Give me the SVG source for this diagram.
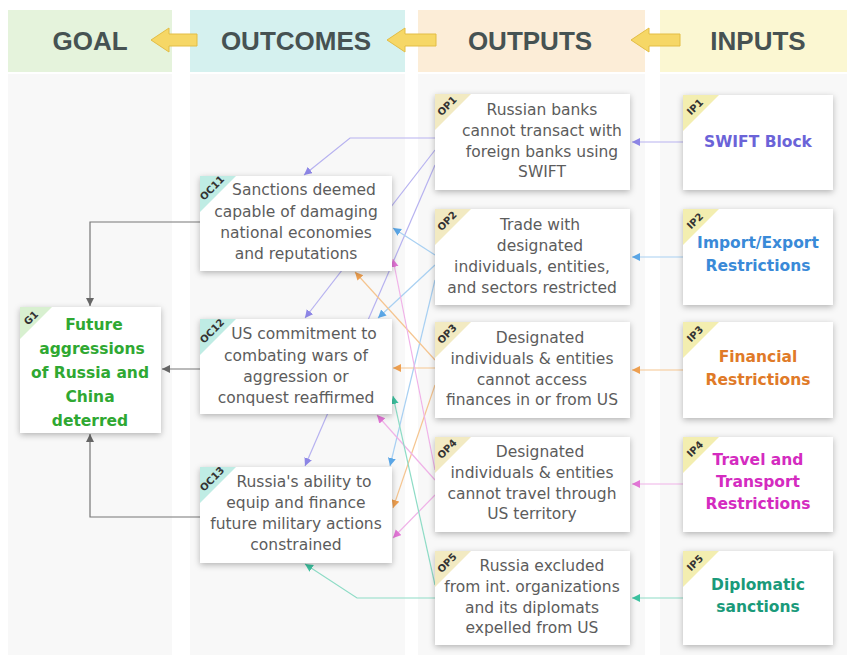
<svg xmlns="http://www.w3.org/2000/svg" width="847" height="655" viewBox="0 0 847 655">
<defs>
<filter id="sh" x="-10%" y="-10%" width="125%" height="130%">
<feDropShadow dx="0" dy="2" stdDeviation="3" flood-color="#000" flood-opacity="0.28"/>
</filter>
<marker id="mP" markerUnits="userSpaceOnUse" markerWidth="9" markerHeight="9" refX="8" refY="4" orient="auto"><path d="M0,0 L8,4 L0,8 z" fill="#8d86e6"/></marker>
<marker id="mB" markerUnits="userSpaceOnUse" markerWidth="9" markerHeight="9" refX="8" refY="4" orient="auto"><path d="M0,0 L8,4 L0,8 z" fill="#5aa6e6"/></marker>
<marker id="mO" markerUnits="userSpaceOnUse" markerWidth="9" markerHeight="9" refX="8" refY="4" orient="auto"><path d="M0,0 L8,4 L0,8 z" fill="#efa050"/></marker>
<marker id="mK" markerUnits="userSpaceOnUse" markerWidth="9" markerHeight="9" refX="8" refY="4" orient="auto"><path d="M0,0 L8,4 L0,8 z" fill="#e275d6"/></marker>
<marker id="mT" markerUnits="userSpaceOnUse" markerWidth="9" markerHeight="9" refX="8" refY="4" orient="auto"><path d="M0,0 L8,4 L0,8 z" fill="#3cc2a0"/></marker>
<marker id="mG" markerUnits="userSpaceOnUse" markerWidth="9" markerHeight="9" refX="8" refY="4" orient="auto"><path d="M0,0 L8,4 L0,8 z" fill="#666"/></marker>
</defs>
<style>
.hd{font-family:"Liberation Sans",Arial,sans-serif;font-weight:bold;font-size:26px;fill:#465252;text-anchor:middle}
.box{fill:#fff;filter:url(#sh)}
.t{font-family:"DejaVu Sans",sans-serif;font-size:15.5px;fill:#5c5c5c;text-anchor:middle}
.ti{font-family:"DejaVu Sans",sans-serif;font-weight:bold;font-size:15.5px;text-anchor:middle}
.tg{font-family:"DejaVu Sans",sans-serif;font-weight:bold;font-size:10px;fill:#333;text-anchor:middle}
.harr{fill:#f6d766;stroke:#e3bd45;stroke-width:1}
.c{fill:none;stroke-width:1.2}
.cP{stroke:#b7b2f0;marker-end:url(#mP)}
.cB{stroke:#a8d0f2;marker-end:url(#mB)}
.cO{stroke:#f5c590;marker-end:url(#mO)}
.cK{stroke:#f0b2e8;marker-end:url(#mK)}
.cT{stroke:#8edcc6;marker-end:url(#mT)}
.cG{stroke:#777;marker-end:url(#mG)}
</style>
<rect width="847" height="655" fill="#fff"/>
<rect x="8" y="74" width="164" height="581" fill="#f8f8f8"/>
<rect x="190" y="74" width="215" height="581" fill="#f8f8f8"/>
<rect x="418" y="74" width="227" height="581" fill="#f8f8f8"/>
<rect x="660" y="74" width="187" height="581" fill="#f8f8f8"/>
<g id="header">
<rect x="8" y="10" width="164" height="62" fill="#e5f3dc"/>
<rect x="190" y="10" width="215" height="62" fill="#d5f1ef"/>
<rect x="418" y="10" width="227" height="62" fill="#fcedd7"/>
<rect x="660" y="10" width="187" height="62" fill="#fbf7d2"/>
<text class="hd" x="90" y="50">GOAL</text>
<text class="hd" x="296" y="50">OUTCOMES</text>
<text class="hd" x="530" y="50">OUTPUTS</text>
<text class="hd" x="758" y="50">INPUTS</text>
<path class="harr" d="M151,40 L169,28 L169,34 L197,34 L197,46 L169,46 L169,52 z"/>
<path class="harr" d="M387,40 L405,28 L405,34 L436,34 L436,46 L405,46 L405,52 z"/>
<path class="harr" d="M631,40 L649,28 L649,34 L680,34 L680,46 L649,46 L649,52 z"/>
</g>
<g id="connectors">
<path class="c cP" d="M683,142 L632,142"/>
<path class="c cB" d="M683,257 L632,257"/>
<path class="c cO" d="M683,370 L632,370"/>
<path class="c cK" d="M683,484 L632,484"/>
<path class="c cT" d="M683,598 L632,598"/>
<path class="c cP" d="M435,138 L350,138 L304,175"/>
<path class="c cP" d="M435,150 L305,318"/>
<path class="c cP" d="M435,165 L305,466"/>
<path class="c cB" d="M435,255 L393,228"/>
<path class="c cB" d="M435,265 L378,318"/>
<path class="c cB" d="M435,280 L390,466"/>
<path class="c cO" d="M435,360 L355,272"/>
<path class="c cO" d="M435,368 L393,368"/>
<path class="c cO" d="M435,385 L393,508"/>
<path class="c cK" d="M435,470 L393,259"/>
<path class="c cK" d="M435,480 L377,415"/>
<path class="c cK" d="M435,495 L393,538"/>
<path class="c cT" d="M435,585 L393,396"/>
<path class="c cT" d="M435,598 L357,598 L305,564"/>
<path class="c cG" d="M200,222 L90,222 L90,306"/>
<path class="c cG" d="M200,369 L162,369"/>
<path class="c cG" d="M200,517 L90,517 L90,434"/>
</g>
<g id="IP1"><rect class="box" x="683" y="95" width="150" height="95"/><path d="M683,95 h36 L683,131 z" fill="#f3eeb0"/><text class="tg" transform="translate(695,107) rotate(-45)" y="3.5">IP1</text>
<text class="ti" x="758" y="147" fill="#6b63d8">SWIFT Block</text></g>
<g id="IP2"><rect class="box" x="683" y="209" width="150" height="96"/><path d="M683,209 h36 L683,245 z" fill="#f3eeb0"/><text class="tg" transform="translate(695,221) rotate(-45)" y="3.5">IP2</text>
<text class="ti" x="758" y="248" fill="#3a8ad8">Import/Export</text><text class="ti" x="758" y="271" fill="#3a8ad8">Restrictions</text></g>
<g id="IP3"><rect class="box" x="683" y="322" width="150" height="96"/><path d="M683,322 h36 L683,358 z" fill="#f3eeb0"/><text class="tg" transform="translate(695,334) rotate(-45)" y="3.5">IP3</text>
<text class="ti" x="758" y="362" fill="#e07a28">Financial</text><text class="ti" x="758" y="385" fill="#e07a28">Restrictions</text></g>
<g id="IP4"><rect class="box" x="683" y="437" width="150" height="95"/><path d="M683,437 h36 L683,473 z" fill="#f3eeb0"/><text class="tg" transform="translate(695,449) rotate(-45)" y="3.5">IP4</text>
<text class="ti" x="758" y="465" fill="#d42bc0">Travel and</text><text class="ti" x="758" y="487" fill="#d42bc0">Transport</text><text class="ti" x="758" y="509" fill="#d42bc0">Restrictions</text></g>
<g id="IP5"><rect class="box" x="683" y="551" width="150" height="94"/><path d="M683,551 h36 L683,587 z" fill="#f3eeb0"/><text class="tg" transform="translate(695,563) rotate(-45)" y="3.5">IP5</text>
<text class="ti" x="758" y="590" fill="#1a9a7a">Diplomatic</text><text class="ti" x="758" y="612" fill="#1a9a7a">sanctions</text></g>
<g id="OP1"><rect class="box" x="435" y="94" width="195" height="96"/><path d="M435,94 h36 L435,130 z" fill="#f2eac2"/><text class="tg" transform="translate(447,106) rotate(-45)" y="3.5">OP1</text>
<text class="t" x="542" y="115">Russian banks</text><text class="t" x="542" y="136">cannot transact with</text><text class="t" x="542" y="157">foreign banks using</text><text class="t" x="542" y="177">SWIFT</text></g>
<g id="OP2"><rect class="box" x="435" y="209" width="195" height="96"/><path d="M435,209 h36 L435,245 z" fill="#f2eac2"/><text class="tg" transform="translate(447,221) rotate(-45)" y="3.5">OP2</text>
<text class="t" x="540" y="230">Trade with</text><text class="t" x="540" y="251">designated</text><text class="t" x="532" y="272">individuals, entities,</text><text class="t" x="532" y="293">and sectors restricted</text></g>
<g id="OP3"><rect class="box" x="435" y="322" width="195" height="96"/><path d="M435,322 h36 L435,358 z" fill="#f2eac2"/><text class="tg" transform="translate(447,334) rotate(-45)" y="3.5">OP3</text>
<text class="t" x="540" y="343">Designated</text><text class="t" x="532" y="364">individuals &amp; entities</text><text class="t" x="532" y="385">cannot access</text><text class="t" x="532" y="405">finances in or from US</text></g>
<g id="OP4"><rect class="box" x="435" y="437" width="195" height="95"/><path d="M435,437 h36 L435,473 z" fill="#f2eac2"/><text class="tg" transform="translate(447,449) rotate(-45)" y="3.5">OP4</text>
<text class="t" x="540" y="457">Designated</text><text class="t" x="532" y="478">individuals &amp; entities</text><text class="t" x="532" y="499">cannot travel through</text><text class="t" x="532" y="519">US territory</text></g>
<g id="OP5"><rect class="box" x="435" y="551" width="195" height="94"/><path d="M435,551 h36 L435,587 z" fill="#f2eac2"/><text class="tg" transform="translate(447,563) rotate(-45)" y="3.5">OP5</text>
<text class="t" x="542" y="571">Russia excluded</text><text class="t" x="532" y="592">from int. organizations</text><text class="t" x="532" y="613">and its diplomats</text><text class="t" x="532" y="633">expelled from US</text></g>
<g id="OC11"><rect class="box" x="200" y="176" width="192" height="95"/><path d="M200,176 h36 L200,212 z" fill="#bfece4"/><text class="tg" transform="translate(212,188) rotate(-45)" y="3.5">OC11</text>
<text class="t" x="304" y="195">Sanctions deemed</text><text class="t" x="296" y="217">capable of damaging</text><text class="t" x="296" y="238">national economies</text><text class="t" x="296" y="259">and reputations</text></g>
<g id="OC12"><rect class="box" x="200" y="319" width="192" height="95"/><path d="M200,319 h36 L200,355 z" fill="#bfece4"/><text class="tg" transform="translate(212,331) rotate(-45)" y="3.5">OC12</text>
<text class="t" x="304" y="339">US commitment to</text><text class="t" x="296" y="361">combating wars of</text><text class="t" x="296" y="382">aggression or</text><text class="t" x="296" y="403">conquest reaffirmed</text></g>
<g id="OC13"><rect class="box" x="200" y="467" width="192" height="96"/><path d="M200,467 h36 L200,503 z" fill="#bfece4"/><text class="tg" transform="translate(212,479) rotate(-45)" y="3.5">OC13</text>
<text class="t" x="304" y="487">Russia's ability to</text><text class="t" x="296" y="508">equip and finance</text><text class="t" x="296" y="529">future military actions</text><text class="t" x="296" y="550">constrained</text></g>
<g id="G1"><rect class="box" x="20" y="307" width="141" height="126"/><path d="M20,307 h32 L20,339 z" fill="#d8f0d0"/><text class="tg" transform="translate(31,318) rotate(-45)" y="3.5">G1</text>
<text class="ti" x="94" y="330" fill="#2fa832">Future</text><text class="ti" x="92" y="354" fill="#2fa832">aggressions</text><text class="ti" x="90" y="378" fill="#2fa832">of Russia and</text><text class="ti" x="90" y="402" fill="#2fa832">China</text><text class="ti" x="90" y="426" fill="#2fa832">deterred</text></g>
</svg>
